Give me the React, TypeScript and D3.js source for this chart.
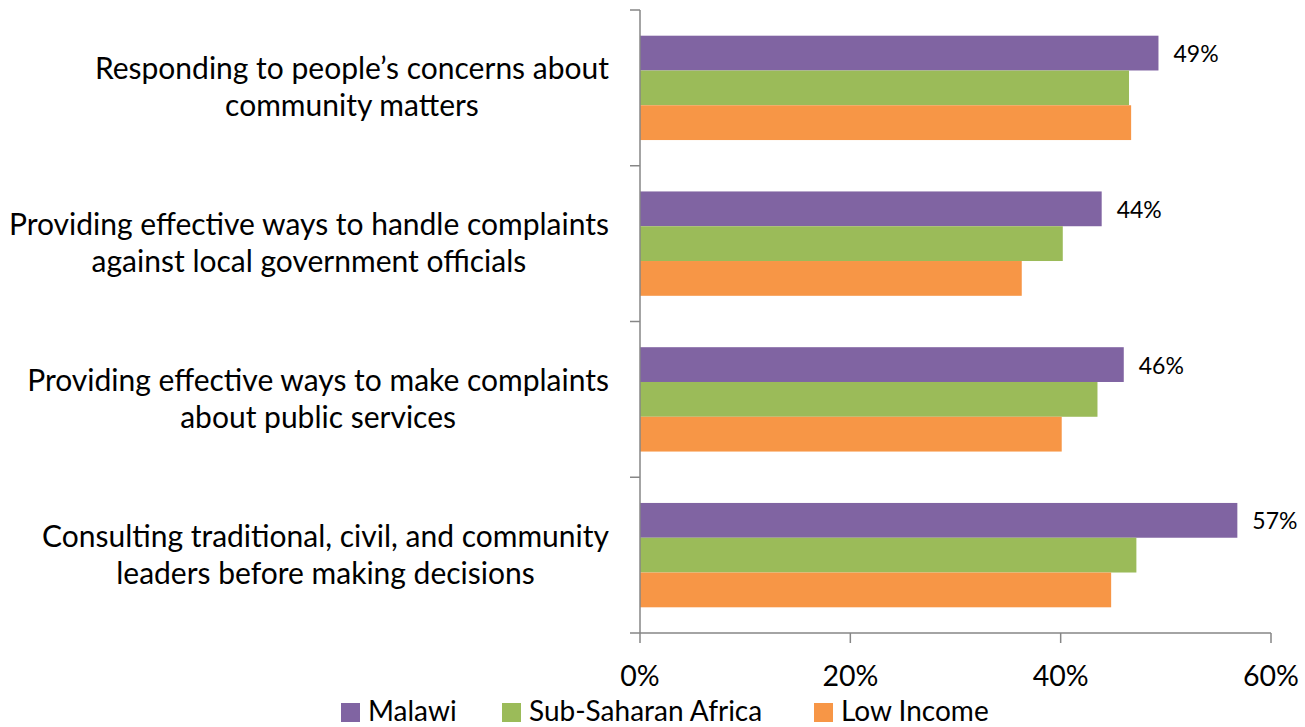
import React, { useLayoutEffect, useRef, useState } from "react";
import * as d3 from "d3";

const categories = [
  ["Responding to people\u2019s concerns about", "community matters"],
  ["Providing effective ways to handle complaints", "against local government officials"],
  ["Providing effective ways to make complaints", "about public services"],
  ["Consulting traditional, civil, and community", "leaders before making decisions"],
];
const seriesNames = ["Malawi", "Sub-Saharan Africa", "Low Income"];
const malawi = [49.3, 43.9, 46.0, 56.8];
const ssa = [46.5, 40.2, 43.5, 47.2];
const lowIncome = [46.7, 36.3, 40.1, 44.8];
const malawiLabels = ["49%", "44%", "46%", "57%"];
const xTicks = [0, 20, 40, 60];
const colors = ["#8064A2", "#9BBB59", "#F79646"];

const W = 1305, H = 727;
const left = 640, right = 1271, top = 10, bottom = 633;
const FONT = "Lato, 'Open Sans', sans-serif";
const labelRight = 609;

export default function App() {
  const x = d3.scaleLinear().domain([0, 60]).range([left, right]);
  const y = d3.scaleBand<number>().domain(d3.range(4)).range([top, bottom]).paddingInner(0.33).paddingOuter(0.165);
  const inner = d3.scaleBand<number>().domain([0, 1, 2]).range([0, y.bandwidth()]);
  const series = [malawi, ssa, lowIncome];
  const step = (bottom - top) / 4;
  const axisColor = "#868686";
  const refs = useRef<(SVGTextElement | null)[]>([]);
  const [centers, setCenters] = useState<number[]>(categories.map(() => 330));
  useLayoutEffect(() => {
    const c = refs.current.map((el) => {
      if (!el) return 330;
      const tspans = Array.from(el.querySelectorAll("tspan")) as SVGTextContentElement[];
      const maxW = Math.max(...tspans.map((t) => t.getComputedTextLength()));
      return labelRight - maxW / 2;
    });
    setCenters(c);
  }, []);
  return (
    <svg width={W} height={H} style={{ display: "block", position: "absolute", left: 0, top: 0 }}>
      <rect width={W} height={H} fill="#fff" />
      {series.map((vals, si) =>
        vals.map((v, ci) => (
          <rect key={`${si}-${ci}`} x={x(0)} y={(y(ci) as number) + (inner(si) as number)} width={x(v) - x(0)} height={inner.bandwidth()} fill={colors[si]} />
        ))
      )}
      <line x1={left} x2={left} y1={top} y2={bottom} stroke={axisColor} strokeWidth={1.5} />
      {d3.range(5).map((i) => (
        <line key={i} x1={left - 10} x2={left} y1={top + i * step} y2={top + i * step} stroke={axisColor} strokeWidth={1.5} />
      ))}
      <line x1={left} x2={right} y1={bottom} y2={bottom} stroke={axisColor} strokeWidth={1.5} />
      {xTicks.map((t) => (
        <g key={t}>
          <line x1={x(t)} x2={x(t)} y1={bottom} y2={bottom + 10} stroke={axisColor} strokeWidth={1.5} />
          <text x={x(t)} y={686} textAnchor="middle" fontFamily={FONT} fontSize={28.5} fill="#000">{t}%</text>
        </g>
      ))}
      {categories.map((lines, ci) => {
        const cy = (y(ci) as number) + y.bandwidth() / 2;
        return (
          <text key={ci} ref={(el) => { refs.current[ci] = el; }} textAnchor="middle" fontFamily={FONT} fontSize={30} fill="#000">
            {lines.map((l, li) => (
              <tspan key={li} x={centers[ci]} y={cy + (li - 0.5) * 37 + 10}>{l}</tspan>
            ))}
          </text>
        );
      })}
      {malawi.map((v, ci) => (
        <text key={ci} x={x(v) + 15} y={(y(ci) as number) + (inner(0) as number) + inner.bandwidth() / 2 + 9} fontFamily={FONT} fontSize={23} fill="#000">{malawiLabels[ci]}</text>
      ))}
      {seriesNames.map((n, i) => {
        const lx = [341, 502, 814][i];
        return (
          <g key={n}>
            <rect x={lx} y={703} width={19} height={19} fill={colors[i]} />
            <text x={lx + 27} y={720.5} fontFamily={FONT} fontSize={28} fill="#000">{n}</text>
          </g>
        );
      })}
    </svg>
  );
}
